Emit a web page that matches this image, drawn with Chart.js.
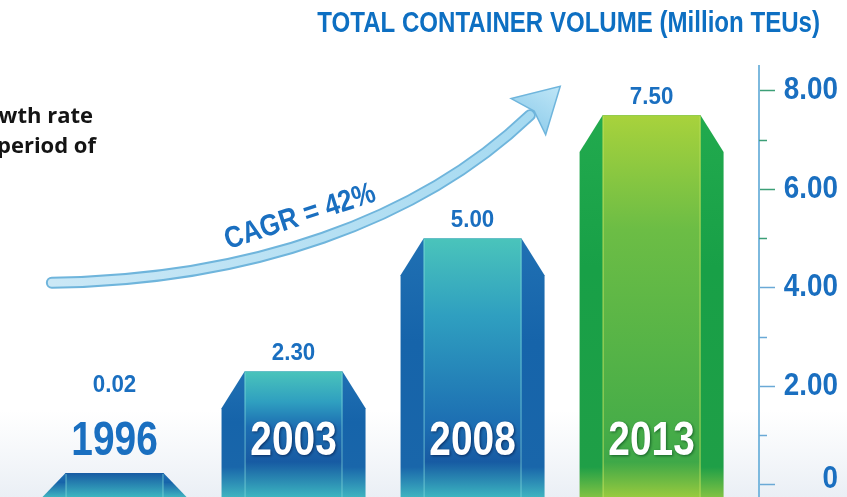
<!DOCTYPE html>
<html>
<head>
<meta charset="utf-8">
<script src="https://cdn.jsdelivr.net/npm/chart.js@4.4.1/dist/chart.umd.min.js"></script>
<style>
  html, body { margin: 0; padding: 0; background: #fff; }
</style>
</head>
<body>
<canvas id="chart" width="847" height="497"></canvas>
<script>
// data
const years = ["1996", "2003", "2008", "2013"];
const volumes = [0.02, 2.3, 5.0, 7.5];
const volumeLabels = ["0.02", "2.30", "5.00", "7.50"];
const chartTitle = "TOTAL CONTAINER VOLUME (Million TEUs)";
const cagrText = "CAGR = 42%";
const sideText = ["Compound annual growth rate", "over the period of"];

// curve of the CAGR arrow, in axis units (x = bar index, y = volume)
const arrowCurve = [[-0.35, 4.1], [0.75, 4.15], [1.7, 5.35], [2.32, 7.5]];

// no condensed face is installed, so bold sans text is squeezed sideways
const BOLD = "'Liberation Sans', Arial, sans-serif";
const BLUE_TEXT = "#1a6fc0";

const bluePalette = {
  side: ["#2070b3", "#1664aa", "#1966aa", "#3fb3c0"],
  center: ["#4ac4bb", "#2f9fc0", "#1c6db2", "#175ba3", "#3cb5c0"],
  edge: "rgba(130, 215, 220, 0.7)",
};
const greenPalette = {
  side: ["#22aa4e", "#18a047", "#1f9f47", "#80c243"],
  center: ["#a8d23c", "#6cbd45", "#47ad48", "#3ea848", "#98ca3e"],
  edge: "rgba(190, 225, 95, 0.8)",
};

function squeezedText(ctx, text, x, y, size, squeeze, align) {
  ctx.save();
  ctx.translate(x, y);
  ctx.scale(squeeze, 1);
  ctx.font = `bold ${size}px ${BOLD}`;
  ctx.textAlign = align;
  ctx.textBaseline = "middle";
  ctx.fillText(text, 0, 0);
  ctx.restore();
}

function addStop(grad, top, bottom, pixel, color) {
  const f = Math.min(1, Math.max(0, (pixel - top) / (bottom - top)));
  grad.addColorStop(f, color);
}

const background = {
  id: "background",
  beforeDraw(chart) {
    const { ctx, width, height } = chart;
    ctx.save();
    ctx.fillStyle = "#ffffff";
    ctx.fillRect(0, 0, width, height);
    const g = ctx.createLinearGradient(0, 410, 0, height);
    g.addColorStop(0, "rgba(237, 241, 246, 0)");
    g.addColorStop(1, "rgba(234, 239, 245, 1)");
    ctx.fillStyle = g;
    ctx.fillRect(0, 410, width, height - 410);
    ctx.restore();
  },
};

function drawBar(ctx, x, y, base, width, pal) {
  const l = x - width / 2;
  const r = x + width / 2;
  const bev = width * 0.16;
  const drop = Math.min(bev * 1.6, base - y);

  const side = ctx.createLinearGradient(0, y, 0, base);
  side.addColorStop(0, pal.side[0]);
  addStop(side, y, base, y + (base - y) * 0.4, pal.side[1]);
  addStop(side, y, base, Math.max(y + (base - y) * 0.4, base - 30), pal.side[2]);
  side.addColorStop(1, pal.side[3]);

  ctx.beginPath();
  ctx.moveTo(l, base);
  ctx.lineTo(l, y + drop);
  ctx.lineTo(l + bev, y);
  ctx.lineTo(r - bev, y);
  ctx.lineTo(r, y + drop);
  ctx.lineTo(r, base);
  ctx.closePath();
  ctx.fillStyle = side;
  ctx.fill();

  const s1 = Math.min(y + (base - y) * 0.3, base - 95);
  const center = ctx.createLinearGradient(0, y, 0, base);
  center.addColorStop(0, pal.center[0]);
  addStop(center, y, base, Math.max(y, s1), pal.center[1]);
  addStop(center, y, base, Math.max(y, s1, base - 70), pal.center[2]);
  addStop(center, y, base, Math.max(y, base - 35), pal.center[3]);
  center.addColorStop(1, pal.center[4]);
  ctx.fillStyle = center;
  ctx.fillRect(l + bev, y, width - 2 * bev, base - y);

  ctx.strokeStyle = pal.edge;
  ctx.lineWidth = 1;
  ctx.beginPath();
  ctx.moveTo(l + bev + 0.5, y + 1);
  ctx.lineTo(l + bev + 0.5, base);
  ctx.moveTo(r - bev - 0.5, y + 1);
  ctx.lineTo(r - bev - 0.5, base);
  ctx.stroke();
}

const barShapes = {
  id: "barShapes",
  afterDatasetsDraw(chart) {
    const { ctx, chartArea } = chart;
    const meta = chart.getDatasetMeta(0);
    const yearY = chartArea.bottom - 55;
    ctx.save();
    meta.data.forEach((bar, i) => {
      const { x, y, base, width } = bar.getProps(["x", "y", "base", "width"], true);
      const last = i === years.length - 1;
      drawBar(ctx, x, y, base, width, last ? greenPalette : bluePalette);

      // year label, inside the bar when it is tall enough
      if (y < yearY - 26) {
        ctx.save();
        ctx.shadowColor = last ? "rgba(10, 80, 30, 0.8)" : "rgba(5, 35, 85, 0.85)";
        ctx.shadowBlur = 3;
        ctx.shadowOffsetX = 1;
        ctx.shadowOffsetY = 1;
        ctx.fillStyle = "#ffffff";
        squeezedText(ctx, years[i], x, yearY, 48, 0.81, "center");
        ctx.restore();
      } else {
        ctx.fillStyle = BLUE_TEXT;
        squeezedText(ctx, years[i], x, yearY, 48, 0.81, "center");
      }

      // value label above the bar
      ctx.fillStyle = BLUE_TEXT;
      squeezedText(ctx, volumeLabels[i], x, Math.min(y - 18, yearY - 57), 24, 0.93, "center");
    });
    ctx.restore();
  },
};

// minor ticks and the tick labels, placed from the y scale
const yAxisExtras = {
  id: "yAxisExtras",
  afterDraw(chart) {
    const { ctx, chartArea } = chart;
    const scale = chart.scales.y;
    ctx.save();
    ctx.lineWidth = 1.5;
    scale.ticks.forEach((t) => {
      const py = scale.getPixelForValue(t.value);
      if (t.value % 2 !== 0) {
        const ly = Math.round(py) + 0.5;
        ctx.strokeStyle = t.value >= 5 ? "#3c9f77" : "#6aa9d6";
        ctx.beginPath();
        ctx.moveTo(scale.left, ly);
        ctx.lineTo(scale.left + 8, ly);
        ctx.stroke();
        return;
      }
      const text = t.value === 0 ? "0" : t.value.toFixed(2);
      ctx.fillStyle = BLUE_TEXT;
      squeezedText(ctx, text, scale.right - 9, Math.min(py, chartArea.bottom - 18), 32, 0.87, "right");
    });
    ctx.restore();
  },
};

const decorations = {
  id: "decorations",
  beforeDatasetsDraw(chart) {
    const { ctx, scales } = chart;
    const pts = arrowCurve.map(([vx, vy]) => [scales.x.getPixelForValue(vx), scales.y.getPixelForValue(vy)]);
    const [p0, c1, c2, p3] = pts;
    ctx.save();

    // shaft
    const shaft = () => {
      ctx.beginPath();
      ctx.moveTo(p0[0], p0[1]);
      ctx.bezierCurveTo(c1[0], c1[1], c2[0], c2[1], p3[0], p3[1]);
    };
    ctx.lineCap = "round";
    shaft();
    ctx.strokeStyle = "#6fb5dc";
    ctx.lineWidth = 12;
    ctx.stroke();
    shaft();
    const sg = ctx.createLinearGradient(p0[0], 0, p3[0], 0);
    sg.addColorStop(0, "#cbe8f6");
    sg.addColorStop(1, "#a6daf1");
    ctx.strokeStyle = sg;
    ctx.lineWidth = 8;
    ctx.stroke();

    // head
    const dx = p3[0] - c2[0];
    const dy = p3[1] - c2[1];
    const len = Math.hypot(dx, dy);
    const ux = dx / len, uy = dy / len;
    const nx = -uy, ny = ux;
    const tip = [p3[0] + ux * 42, p3[1] + uy * 42];
    ctx.beginPath();
    ctx.moveTo(tip[0], tip[1]);
    ctx.lineTo(p3[0] + nx * 25 - ux * 2, p3[1] + ny * 25 - uy * 2);
    ctx.lineTo(p3[0] + ux * 6, p3[1] + uy * 6);
    ctx.lineTo(p3[0] - nx * 25 - ux * 2, p3[1] - ny * 25 - uy * 2);
    ctx.closePath();
    const hg = ctx.createLinearGradient(p3[0], p3[1] + 20, tip[0], tip[1]);
    hg.addColorStop(0, "#8ccbea");
    hg.addColorStop(1, "#bfe6f7");
    ctx.fillStyle = hg;
    ctx.fill();
    ctx.strokeStyle = "#6fb5dc";
    ctx.lineWidth = 1.5;
    ctx.stroke();

    // CAGR text along the curve
    const t = 0.47, m = 1 - t;
    const bx = m * m * m * p0[0] + 3 * m * m * t * c1[0] + 3 * m * t * t * c2[0] + t * t * t * p3[0];
    const by = m * m * m * p0[1] + 3 * m * m * t * c1[1] + 3 * m * t * t * c2[1] + t * t * t * p3[1];
    const tx = 3 * m * m * (c1[0] - p0[0]) + 6 * m * t * (c2[0] - c1[0]) + 3 * t * t * (p3[0] - c2[0]);
    const ty = 3 * m * m * (c1[1] - p0[1]) + 6 * m * t * (c2[1] - c1[1]) + 3 * t * t * (p3[1] - c2[1]);
    const ang = Math.atan2(ty, tx);
    ctx.translate(bx + Math.sin(ang) * 27, by - Math.cos(ang) * 27);
    ctx.rotate(ang);
    ctx.fillStyle = BLUE_TEXT;
    squeezedText(ctx, cagrText, 0, 0, 30, 0.86, "center");
    ctx.restore();
  },
  afterDraw(chart) {
    const { ctx } = chart;
    ctx.save();
    ctx.fillStyle = "#0d6fc2";
    squeezedText(ctx, chartTitle, 820, 24, 29, 0.83, "right");

    ctx.font = "bold 22px 'Open Sans', sans-serif";
    ctx.fillStyle = "#141414";
    ctx.textAlign = "right";
    ctx.textBaseline = "alphabetic";
    ctx.fillText(sideText[0], 93, 123);
    ctx.fillText(sideText[1], 96, 153);
    ctx.restore();
  },
};

new Chart(document.getElementById("chart"), {
  type: "bar",
  data: {
    datasets: [
      {
        label: "Total container volume",
        data: volumes.map((v, i) => ({ x: i, y: v })),
        backgroundColor: "rgba(0,0,0,0)",
        borderWidth: 0,
        barThickness: 144,
        minBarLength: 24,
        base: -0.25,
      },
    ],
  },
  options: {
    responsive: false,
    animation: false,
    layout: { padding: { left: 25, top: 66, right: 0, bottom: 0 } },
    plugins: {
      legend: { display: false },
      tooltip: { enabled: false },
    },
    scales: {
      x: {
        type: "linear",
        min: -0.5,
        max: 3.6,
        offset: false,
        display: false,
      },
      y: {
        position: "right",
        min: -0.25,
        max: 8.5,
        afterFit: (scale) => {
          scale.width = 88;
        },
        border: { display: true, color: "#7db9de", width: 2 },
        grid: {
          drawOnChartArea: false,
          drawTicks: true,
          tickLength: 16,
          tickWidth: 1.5,
          tickColor: (ctx) =>
            ctx.tick && ctx.tick.value % 2 !== 0
              ? "rgba(0,0,0,0)"
              : ctx.tick && ctx.tick.value >= 5
                ? "#3c9f77"
                : "#6aa9d6",
        },
        ticks: {
          display: false,
          stepSize: 1,
          includeBounds: false,
          autoSkip: false,
        },
      },
    },
  },
  plugins: [background, decorations, barShapes, yAxisExtras],
});
</script>
</body>
</html>
